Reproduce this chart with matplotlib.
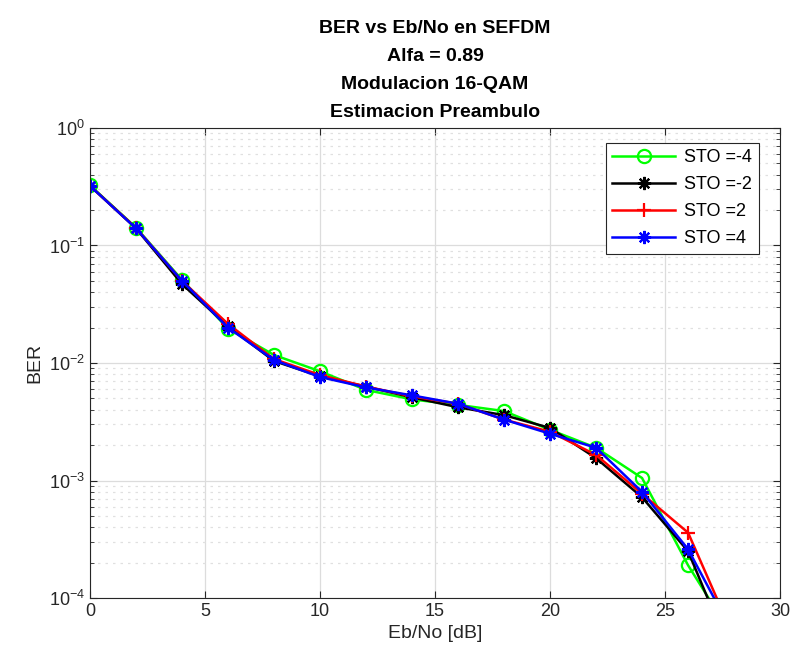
import matplotlib
matplotlib.use("Agg")
import matplotlib.pyplot as plt
import numpy as np

plt.rcParams['font.family'] = ['Liberation Sans', 'DejaVu Sans']

ebno = [0, 2, 4, 6, 8, 10, 12, 14, 16, 18, 20, 22, 24, 26, 28]
labels = ["STO =-4", "STO =-2", "STO =2", "STO =4"]
ber_m4 = [0.325, 0.142, 0.051, 0.0196, 0.0117, 0.0085, 0.0059, 0.0049, 0.0044, 0.0039, 0.0027, 0.0019, 0.00105, 0.00019, 4.5e-5]
ber_m2 = [0.322, 0.140, 0.047, 0.0205, 0.0104, 0.0077, 0.0063, 0.0051, 0.0042, 0.0036, 0.0028, 0.00155, 0.00072, 0.00025, 2.9e-5]
ber_p2 = [0.322, 0.141, 0.050, 0.0215, 0.0108, 0.0079, 0.0063, 0.0052, 0.0045, 0.0033, 0.0026, 0.00165, 0.00077, 0.00036, 4.6e-5]
ber_p4 = [0.322, 0.140, 0.050, 0.0200, 0.0106, 0.0076, 0.0062, 0.0053, 0.0045, 0.0033, 0.0025, 0.00190, 0.00080, 0.00026, 4.8e-5]

series = [ber_m4, ber_m2, ber_p2, ber_p4]
colors = ['#00ff00', '#000000', '#ff0000', '#0000ff']
markers = ['o', (8, 2, 0), '+', (8, 2, 0)]

fig = plt.figure(figsize=(7.96, 6.63), dpi=100)
ax = fig.add_axes([0.113, 0.098, 0.867, 0.709])

for ys, c, m, lab in zip(series, colors, markers, labels):
    mfc = 'none' if m == 'o' else c
    ax.semilogy(ebno, ys, color=c, marker=m, markersize=9.5, linewidth=1.8,
                markerfacecolor=mfc, markeredgecolor=c, markeredgewidth=1.6,
                label=lab)

ax.set_xlim(0, 30)
ax.set_ylim(1e-4, 1)
ax.set_xticks([0, 5, 10, 15, 20, 25, 30])
ax.set_yticks([1e-4, 1e-3, 1e-2, 1e-1, 1])
ax.grid(True, which='major', color='#dcdcdc', linewidth=0.9, linestyle='-')
ax.grid(True, which='minor', axis='y', color='#e0e0e0', linewidth=0.9, linestyle=(0, (2, 4)))
ax.set_axisbelow(True)
ax.tick_params(which='both', direction='in', top=True, right=True, labelsize=13, colors='#262626')
ax.tick_params(which='major', length=5)
ax.tick_params(which='minor', length=3)
for s in ax.spines.values():
    s.set_color('#262626')
    s.set_linewidth(0.8)

ax.set_xlabel('Eb/No [dB]', fontsize=14, color='#262626')
ax.set_ylabel('BER', fontsize=14, color='#262626')
ax.set_title('BER vs Eb/No en SEFDM\nAlfa = 0.89\nModulacion 16-QAM\nEstimacion Preambulo',
             fontsize=14, fontweight='bold', linespacing=1.85, pad=8)

leg = ax.legend(loc='upper right', bbox_to_anchor=(0.982, 0.987), fontsize=13,
                fancybox=False, framealpha=1, edgecolor='#262626',
                handlelength=3.5, handletextpad=0.5, borderpad=0.35, labelspacing=0.55)
leg.get_frame().set_linewidth(0.8)

fig.savefig('out.png', dpi=100)
